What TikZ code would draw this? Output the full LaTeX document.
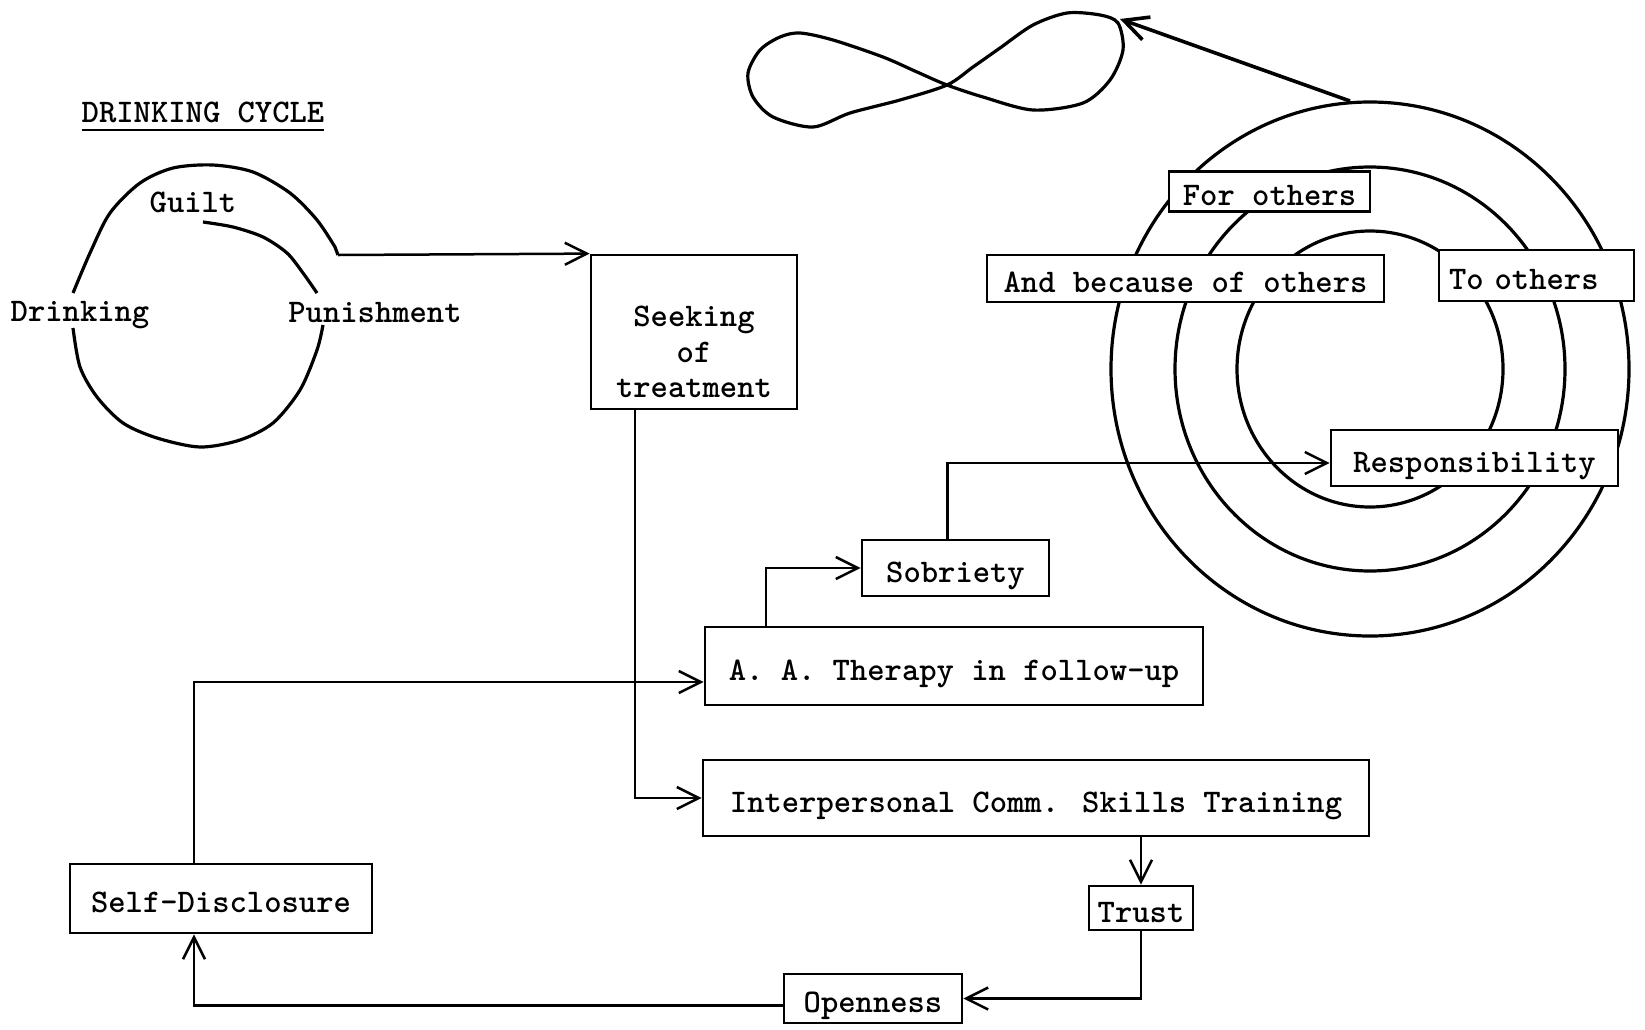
\documentclass[tikz,border=0pt]{standalone}
\usetikzlibrary{arrows.meta,positioning}
\begin{document}
\begin{tikzpicture}[x=1pt,y=-1pt,
  font=\fontsize{33}{35.5}\selectfont\ttfamily\bfseries,
  box/.style={draw, line width=2.8pt, fill=white, inner sep=0pt, text height=28pt, text depth=0pt},
  lbl/.style={inner sep=0pt, text height=20pt, text depth=0pt},
  flow/.style={line width=2.5pt, -{Straight Barb[length=22pt,width=22pt]}},
  ring/.style={line width=3.2pt}]

\useasboundingbox (0,0) rectangle (1645,1029);

% drinking cycle
\node[lbl] (title) at (203,112) {DRINKING CYCLE};
\draw[line width=2.5pt] ([yshift=-8pt]title.south west) -- ([yshift=-8pt]title.south east);

\node[lbl] (guilt) at (193,202) {Guilt};
\node[lbl] (drinking) at (80,311) {Drinking};
\node[lbl] (punish) at (375,312) {Punishment};
\coordinate (cycleexit) at (338,255);

\draw[ring] plot[smooth] coordinates {(73,293) (90,253) (110,213) (140,183) (173,168) (213,165) (253,172) (290,193) (317,220) (335,247)} -- (cycleexit);
\draw[ring] plot[smooth] coordinates {(203,222) (233,227) (263,237) (287,253) (303,273) (317,293)};
\draw[ring] plot[smooth] coordinates {(323,325) (317,350) (300,390) (273,423) (240,440) (200,447) (157,438) (123,423) (97,397) (80,367) (73,328)};

% rings and loop
\draw[ring] (1370,369) ellipse [x radius=259pt, y radius=267pt];
\draw[ring] (1370,369) ellipse [x radius=195pt, y radius=202pt];
\draw[ring] (1370,369) ellipse [x radius=133pt, y radius=138pt];

\draw[ring] plot[smooth cycle] coordinates {(947,85) (983,97) (1033,110) (1083,103) (1110,80) (1123,50) (1118,23) (1100,15) (1067,13) (1033,25) (1000,48) (973,67) (947,85) (900,100) (850,113) (813,127) (773,117) (753,97) (748,73) (760,50) (780,37) (800,33) (833,40) (883,57) (917,72)};

\coordinate (ringtop) at (1350,101);
\coordinate (loopend) at (1120,19);
\draw[line width=3.6pt, -{Straight Barb[length=24pt,width=24pt]}] (ringtop) -- (loopend);

% boxes
\node[box, minimum width=206pt, minimum height=154pt] (seeking) at (694,332) {};
\node[align=center, inner sep=0pt] (seekingtext) at (694,352) {Seeking\\of\\treatment};
\node[box, minimum width=498pt, minimum height=78pt] (aa) at (954,666) {A. A. Therapy in follow-up};
\node[box, minimum width=187pt, minimum height=56pt] (sobriety) at (955.5,568) {Sobriety};
\node[box, minimum width=666pt, minimum height=76pt] (skills) at (1036,798) {Interpersonal Comm. Skills Training};
\node[box, minimum width=104pt, minimum height=44pt] (trust) at (1141,908) {Trust};
\node[box, minimum width=178pt, minimum height=49pt] (openness) at (873,998.5) {Openness};
\node[box, minimum width=302pt, minimum height=69pt] (selfdis) at (221,898.5) {Self-Disclosure};
\node[box, minimum width=287pt, minimum height=56pt] (resp) at (1474.5,458) {Responsibility};
\node[box, minimum width=201pt, minimum height=40pt] (forothers) at (1269.5,191.5) {For others};
\node[box, minimum width=397pt, minimum height=47pt] (because) at (1185.5,278.5) {And because of others};
\node[box, minimum width=195pt, minimum height=51pt, text width=175pt, align=left] (toothers) at (1536.5,275.5) {To others};

% connectors
\draw[flow] (cycleexit) -- (seeking.north west);
\draw[flow] ([xshift=-59pt]seeking.south) |- (skills.west);
\draw[flow] ([xshift=-188pt]aa.north) |- (sobriety.west);
\draw[flow] ([xshift=-8pt]sobriety.north) |- ([yshift=-5pt]resp.west);
\draw[flow] (skills.south -| trust.north) -- (trust.north);
\draw[flow] (trust.south) |- (openness.east);
\draw[flow] ([yshift=-7pt]openness.west) -| ([xshift=-27pt]selfdis.south);
\draw[flow] ([xshift=-27pt]selfdis.north) |- ([yshift=-16pt]aa.west);

\end{tikzpicture}
\end{document}
